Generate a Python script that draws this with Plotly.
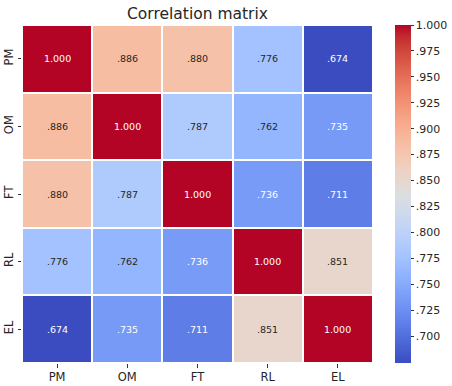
import plotly.graph_objects as go

labels = ["PM", "OM", "FT", "RL", "EL"]
corr = [
    [1.000, 0.886, 0.880, 0.776, 0.674],
    [0.886, 1.000, 0.787, 0.762, 0.735],
    [0.880, 0.787, 1.000, 0.736, 0.711],
    [0.776, 0.762, 0.736, 1.000, 0.851],
    [0.674, 0.735, 0.711, 0.851, 1.000],
]
cbar_ticks = [0.700, 0.725, 0.750, 0.775, 0.800, 0.825, 0.850, 0.875, 0.900, 0.925, 0.950, 0.975, 1.000]
cbar_ticktext = [".700", ".725", ".750", ".775", ".800", ".825", ".850", ".875", ".900", ".925", ".950", ".975", "1.000"]

coolwarm_rgb = [
    (59, 76, 192), (68, 90, 204), (77, 104, 215), (87, 117, 225), (98, 130, 234),
    (108, 142, 241), (119, 154, 247), (130, 165, 251), (141, 176, 254), (152, 185, 255),
    (163, 194, 255), (174, 201, 253), (184, 208, 249), (194, 213, 244), (204, 217, 238),
    (213, 219, 230), (221, 221, 221), (229, 216, 209), (236, 211, 197), (241, 204, 184),
    (245, 196, 172), (247, 187, 160), (247, 177, 148), (247, 166, 137), (244, 154, 123),
    (241, 141, 111), (236, 127, 99), (229, 112, 89), (222, 96, 77), (213, 80, 66),
    (203, 62, 56), (192, 40, 47), (180, 4, 38),
]
n = len(coolwarm_rgb) - 1
colorscale = [[i / n, "rgb(%d,%d,%d)" % c] for i, c in enumerate(coolwarm_rgb)]

zmin = min(min(r) for r in corr)
zmax = max(max(r) for r in corr)


def fmt(v):
    s = "%.3f" % v
    return s[1:] if s.startswith("0") else s


fig = go.Figure()
fig.add_trace(go.Heatmap(
    z=corr, x=labels, y=labels,
    zmin=zmin, zmax=zmax,
    colorscale=colorscale,
    xgap=2, ygap=2,
    hoverinfo="skip",
    colorbar=dict(
        x=1.0627, xanchor="left", xpad=0,
        y=1, yanchor="top", len=1, lenmode="fraction", ypad=0,
        thickness=16, outlinewidth=0,
        tickvals=cbar_ticks, ticktext=cbar_ticktext,
        ticks="outside", ticklen=3, tickcolor="#333",
        tickfont=dict(family="DejaVu Sans", size=11, color="#262626"),
    ),
))

annotations = []
for i, row in enumerate(corr):
    for j, v in enumerate(row):
        white = v <= 0.74 or v >= 0.95
        annotations.append(dict(
            x=labels[j], y=labels[i], xref="x", yref="y",
            text=fmt(v), showarrow=False,
            font=dict(family="DejaVu Sans", size=9.5,
                      color="#ffffff" if white else "#262626"),
        ))

fig.update_layout(
    width=452, height=386,
    margin=dict(l=22, r=79, t=25, b=23, autoexpand=False),
    paper_bgcolor="white", plot_bgcolor="white",
    title=dict(text="Correlation matrix", x=0.5, xref="paper", xanchor="center",
               y=1, yref="paper", yanchor="bottom", pad=dict(b=6),
               font=dict(family="DejaVu Sans", size=15.5, color="#262626")),
    annotations=annotations,
    xaxis=dict(showgrid=False, zeroline=False, ticks="outside", ticklen=3.5,
               automargin=False,
               tickcolor="#333", tickfont=dict(family="DejaVu Sans", size=11.5, color="#262626")),
    yaxis=dict(showgrid=False, zeroline=False, autorange="reversed", ticks="outside",
               automargin=False,
               ticklen=3.5, tickcolor="#333", tickangle=-90,
               tickfont=dict(family="DejaVu Sans", size=11.5, color="#262626")),
)

fig.write_html("out.html", config={"displayModeBar": False},
               post_script="document.body.style.margin='0';document.body.style.overflow='hidden';")
